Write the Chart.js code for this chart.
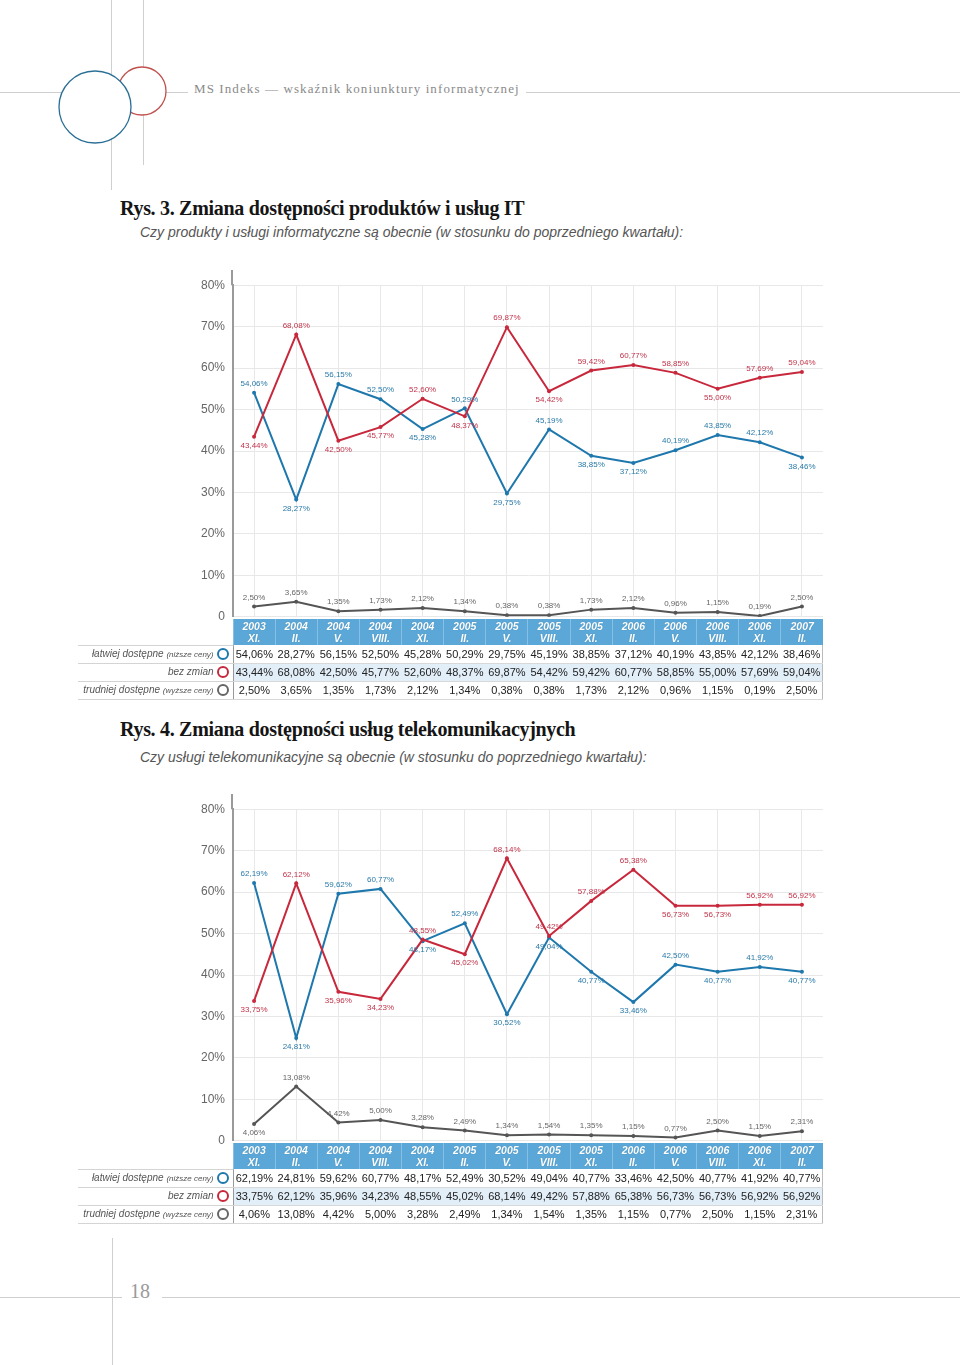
<!DOCTYPE html>
<html>
<head>
<meta charset="utf-8">
<script src="https://cdn.jsdelivr.net/npm/chart.js@4"></script>
<style>
body{margin:0;width:960px;height:1365px;position:relative;background:#fff;overflow:hidden;font-family:"Liberation Sans",Arial,sans-serif}
.abs{position:absolute}
.tytul{position:absolute;left:120px;margin:0;font:bold 20px/20px "Liberation Serif",serif;letter-spacing:-0.3px;color:#151515}
.pyt{position:absolute;left:140px;font:italic 14px/16px "Liberation Sans",Arial,sans-serif;color:#555}
.tab{position:absolute;left:78px;border-collapse:collapse;table-layout:fixed}
.tab td{padding:0;text-align:center;font-size:11px;color:#222;height:17px;white-space:nowrap}
.tab tr.nag td{height:26px;background:#5ba8d8;color:#fff;font:italic bold 10.5px/12px "Liberation Sans",Arial,sans-serif;border-left:1px solid #86c0e4;text-shadow:0 0 1px #3d7fa8}
.tab tr.nag td.pusta{background:transparent;border:none;text-shadow:none}
.tab td.lab{text-align:right;font:italic 10px "Liberation Sans",Arial,sans-serif;color:#555;border-bottom:1px solid #d4d4d4;padding-right:4px}
.tab td.lab small{font-size:8px}
.tab td.war{border-bottom:1px solid #d8d8d8}
.tab td.war.pierwsza{border-left:1px solid #999}
.tab td.war.ostatnia{border-right:1px solid #bbb}
.tab tr.r1 td.lab{border-top:1px solid #d4d4d4}
.tab tr.r2 td.war{background:#e2eef8}
.kolko{display:inline-block;width:8px;height:8px;border:2px solid;border-radius:50%;vertical-align:-3px;margin-left:3px}
</style>
</head>
<body>

<svg class="abs" style="left:0;top:0" width="960" height="200">
  <line x1="0" y1="92.5" x2="960" y2="92.5" stroke="#cfcfcf" stroke-width="1"/>
  <line x1="111.5" y1="0" x2="111.5" y2="190" stroke="#cfcfcf" stroke-width="1"/>
  <line x1="143.5" y1="0" x2="143.5" y2="165" stroke="#cfcfcf" stroke-width="1"/>
  <circle cx="142" cy="91" r="24" fill="#fff" stroke="#c0504d" stroke-width="1.3"/>
  <circle cx="95" cy="107" r="36" fill="#fff" stroke="#2b6f96" stroke-width="1.3"/>
</svg>
<div class="abs" style="left:188px;top:81px;background:#fff;padding:0 6px;font:13px 'Liberation Serif',serif;letter-spacing:1.1px;color:#8a8a8a">MS Indeks — wskaźnik koniunktury informatycznej</div>

<div class="tytul" style="top:198px">Rys. 3. Zmiana dostępności produktów i usług IT</div>
<div class="pyt" style="top:224px">Czy produkty i usługi informatyczne są obecnie (w stosunku do poprzedniego kwartału):</div>
<canvas id="wykres1" class="abs" style="left:0;top:270px" width="960" height="362"></canvas>

<div class="tytul" style="top:719px">Rys. 4. Zmiana dostępności usług telekomunikacyjnych</div>
<div class="pyt" style="top:749px">Czy usługi telekomunikacyjne są obecnie (w stosunku do poprzedniego kwartału):</div>
<canvas id="wykres2" class="abs" style="left:0;top:794px" width="960" height="362"></canvas>

<svg class="abs" style="left:0;top:1230px" width="960" height="135">
  <line x1="0" y1="67.5" x2="960" y2="67.5" stroke="#cfcfcf" stroke-width="1"/>
  <line x1="112.5" y1="8" x2="112.5" y2="135" stroke="#cfcfcf" stroke-width="1"/>
</svg>
<div class="abs" style="left:122px;top:1280px;background:#fff;padding:0 12px 0 8px;font:20px 'Liberation Serif',serif;color:#9a9a9a">18</div>

<script>
// kategorie (kwartały)
const lata = ['2003','2004','2004','2004','2004','2005','2005','2005','2005','2006','2006','2006','2006','2007'];
const miesiace = ['XI.','II.','V.','VIII.','XI.','II.','V.','VIII.','XI.','II.','V.','VIII.','XI.','II.'];

// Rys. 3 - produkty i uslugi IT
const it_latwiej = [54.06,28.27,56.15,52.50,45.28,50.29,29.75,45.19,38.85,37.12,40.19,43.85,42.12,38.46];
const it_bezZmian = [43.44,68.08,42.50,45.77,52.60,48.37,69.87,54.42,59.42,60.77,58.85,55.00,57.69,59.04];
const it_trudniej = [2.50,3.65,1.35,1.73,2.12,1.34,0.38,0.38,1.73,2.12,0.96,1.15,0.19,2.50];

// Rys. 4 - uslugi telekomunikacyjne
const tel_latwiej = [62.19,24.81,59.62,60.77,48.17,52.49,30.52,49.04,40.77,33.46,42.50,40.77,41.92,40.77];
const tel_bezZmian = [33.75,62.12,35.96,34.23,48.55,45.02,68.14,49.42,57.88,65.38,56.73,56.73,56.92,56.92];
const tel_trudniej = [4.06,13.08,4.42,5.00,3.28,2.49,1.34,1.54,1.35,1.15,0.77,2.50,1.15,2.31];

const yTicks = [0,10,20,30,40,50,60,70,80];

// gdzie opis wartosci: 1 = pod punktem, 0 = nad
const it_pozL = [0,1,0,0,1,0,1,0,1,1,0,0,0,1];
const it_pozB = [1,0,1,1,0,1,0,1,0,0,0,1,0,0];
const it_pozT = [0,0,0,0,0,0,0,0,0,0,0,0,0,0];
const tel_pozL = [0,1,0,0,1,0,1,1,1,1,0,1,0,1];
const tel_pozB = [1,0,1,1,0,1,0,0,0,0,1,1,0,0];
const tel_pozT = [1,0,0,0,0,0,0,0,0,0,0,0,0,0];

const NIEB = '#1f78ad', CZER = '#c8283c', SZARY = '#555555';

const fmt = v => v.toFixed(2).replace('.', ',') + '%';

const opisy = {
  id: 'opisy',
  afterDatasetsDraw(chart) {
    const ctx = chart.ctx;
    chart.data.datasets.forEach((ds, i) => {
      const meta = chart.getDatasetMeta(i);
      ctx.save();
      ctx.font = '8px "Liberation Sans", Arial, sans-serif';
      ctx.fillStyle = ds.kolorOpisu;
      ctx.textAlign = 'center';
      meta.data.forEach((pt, j) => {
        const pod = ds.pod[j];
        ctx.textBaseline = pod ? 'top' : 'bottom';
        ctx.fillText(fmt(ds.data[j]), pt.x, pt.y + (pod ? 5 : -5));
      });
      ctx.restore();
    });
  }
};

// przedluzenie osi y ponad 80%
const osY = {
  id: 'osY',
  afterDraw(chart) {
    const a = chart.chartArea, ctx = chart.ctx;
    ctx.save();
    ctx.strokeStyle = '#9a9a9a';
    ctx.lineWidth = 2;
    ctx.beginPath();
    ctx.moveTo(a.left - 1, a.top - 25);
    ctx.lineTo(a.left - 1, a.top);
    ctx.stroke();
    ctx.restore();
  }
};

function zbior(dane, kolor, kolorOpisu, pod) {
  return {
    data: dane, borderColor: kolor, backgroundColor: kolor, borderWidth: 2,
    pointRadius: 2, pointBorderWidth: 0, tension: 0,
    kolorOpisu: kolorOpisu, pod: pod
  };
}

function rysuj(id, lat, bez, trud, pL, pB, pT) {
  const ch = new Chart(document.getElementById(id), {
    type: 'line',
    data: {
      labels: lata.map((r, i) => [r, miesiace[i]]),
      datasets: [
        zbior(trud, SZARY, '#666', pT),
        zbior(bez, CZER, '#c0334a', pB),
        zbior(lat, NIEB, '#2a7aa8', pL)
      ]
    },
    options: {
      responsive: false,
      animation: false,
      devicePixelRatio: 1,
      layout: { padding: { left: 0, right: 137, top: 13, bottom: 12 } },
      plugins: { legend: { display: false }, tooltip: { enabled: false } },
      scales: {
        x: {
          type: 'category', offset: true,
          grid: { color: '#e8e8e8', drawTicks: false },
          border: { display: false },
          ticks: { display: false },
          afterFit(s) { s.height = 0; }
        },
        y: {
          min: 0, max: 80,
          afterBuildTicks(s) { s.ticks = yTicks.map(v => ({ value: v })); },
          grid: { color: '#e8e8e8', drawTicks: false },
          border: { color: '#9a9a9a', width: 2 },
          ticks: {
            padding: 8, color: '#666',
            font: { family: '"Liberation Sans", Arial, sans-serif', size: 12 },
            callback: v => v === 0 ? '0' : v + '%'
          },
          afterFit(s) { s.width = 233; }
        }
      }
    },
    plugins: [opisy, osY]
  });
  return ch;
}

function tabela(chart, canvasTop, lat, bez, trud) {
  const a = chart.chartArea;
  const n = lata.length;
  const colW = a.width / n;
  const t = document.createElement('table');
  t.className = 'tab';
  t.style.top = (canvasTop + a.bottom + 2) + 'px';
  t.style.width = (a.right - 78) + 'px';
  let html = '<colgroup><col style="width:' + (a.left - 78) + 'px">';
  for (let i = 0; i < n; i++) html += '<col style="width:' + colW + 'px">';
  html += '</colgroup><tr class="nag"><td class="pusta"></td>';
  for (let i = 0; i < n; i++) html += '<td>' + lata[i] + '<br>' + miesiace[i] + '</td>';
  html += '</tr>';
  const wiersze = [
    ['łatwiej dostępne', '(niższe ceny)', NIEB, lat],
    ['bez zmian', '', CZER, bez],
    ['trudniej dostępne', '(wyższe ceny)', '#666', trud]
  ];
  wiersze.forEach((w, k) => {
    html += '<tr class="r' + (k + 1) + '"><td class="lab">' + w[0] +
      (w[1] ? ' <small>' + w[1] + '</small>' : '') +
      '<span class="kolko" style="border-color:' + w[2] + '"></span></td>';
    w[3].forEach((v, i) => {
      html += '<td class="war' + (i === 0 ? ' pierwsza' : '') + (i === n - 1 ? ' ostatnia' : '') + '">' + fmt(v) + '</td>';
    });
    html += '</tr>';
  });
  t.innerHTML = html;
  document.body.appendChild(t);
}

const w1 = rysuj('wykres1', it_latwiej, it_bezZmian, it_trudniej, it_pozL, it_pozB, it_pozT);
tabela(w1, 270, it_latwiej, it_bezZmian, it_trudniej);
const w2 = rysuj('wykres2', tel_latwiej, tel_bezZmian, tel_trudniej, tel_pozL, tel_pozB, tel_pozT);
tabela(w2, 794, tel_latwiej, tel_bezZmian, tel_trudniej);
</script>
</body>
</html>
